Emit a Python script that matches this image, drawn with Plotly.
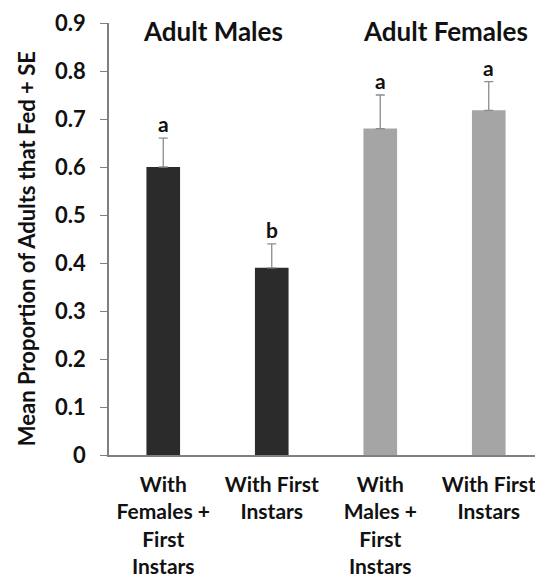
import plotly.graph_objects as go

categories = ["With<br>Females +<br>First<br>Instars", "With First<br>Instars",
              "With<br>Males +<br>First<br>Instars", "With First<br>Instars"]
means = [0.60, 0.39, 0.68, 0.718]
se = [0.06, 0.05, 0.07, 0.06]
letters = ["a", "b", "a", "a"]
bar_colors = ["#2b2b2b", "#2b2b2b", "#a5a5a5", "#a5a5a5"]
groups = ["Adult Males", "Adult Females"]
group_centers = [0.46, 2.6]
yticks = [0, 0.1, 0.2, 0.3, 0.4, 0.5, 0.6, 0.7, 0.8, 0.9]
ytick_text = ["0", "0.1", "0.2", "0.3", "0.4", "0.5", "0.6", "0.7", "0.8", "0.9"]
y_title = "Mean Proportion of Adults that Fed + SE"

FONT = "Lato"
xpos = list(range(len(categories)))

fig = go.Figure()
fig.add_trace(go.Bar(
    x=xpos, y=means, marker=dict(color=bar_colors, line=dict(width=0)),
    error_y=dict(type="data", array=se, arrayminus=[0] * len(se), symmetric=False,
                 color="#8c8c8c", thickness=1.3, width=4.5),
    width=0.31,
))

for i, (m, s, l) in enumerate(zip(means, se, letters)):
    fig.add_annotation(x=i, y=m + s, text=f"<b>{l}</b>", showarrow=False,
                       yanchor="bottom", yshift=0,
                       font=dict(family=FONT, size=21, color="#111"))

for xc, name in zip(group_centers, groups):
    fig.add_annotation(x=xc, y=0.883, text=f"<b>{name}</b>", showarrow=False,
                       yanchor="middle",
                       font=dict(family=FONT, size=26, color="#111"))

fig.add_annotation(xref="paper", yref="y", x=-0.19, y=0.43, text=f"<b>{y_title}</b>",
                   textangle=-90, showarrow=False, xanchor="center", yanchor="middle",
                   font=dict(family=FONT, size=22, color="#111"))

fig.update_layout(
    width=535, height=575,
    margin=dict(l=101, r=0, t=15, b=128),
    plot_bgcolor="white", paper_bgcolor="white",
    showlegend=False,
    font=dict(family=FONT, color="#111"),
    xaxis=dict(tickmode="array", tickvals=xpos,
               ticktext=[f"<b>{c}</b>" for c in categories],
               range=[-0.5, 3.5], showline=True, linecolor="#808080", linewidth=1.5,
               ticks="", tickfont=dict(family=FONT, size=21, color="#111"),
               ticklabelstandoff=10,
               showgrid=False, zeroline=False),
    yaxis=dict(range=[0, 0.9], tickvals=yticks,
               ticktext=[f"<b>{t}</b>" for t in ytick_text],
               showline=True, linecolor="#808080", linewidth=1.5,
               ticks="outside", ticklen=7, tickcolor="#808080", tickwidth=1.3,
               tickfont=dict(family=FONT, size=22, color="#111"),
               ticklabelstandoff=10,
               showgrid=False, zeroline=False),
)

fig.write_html("out.html")
